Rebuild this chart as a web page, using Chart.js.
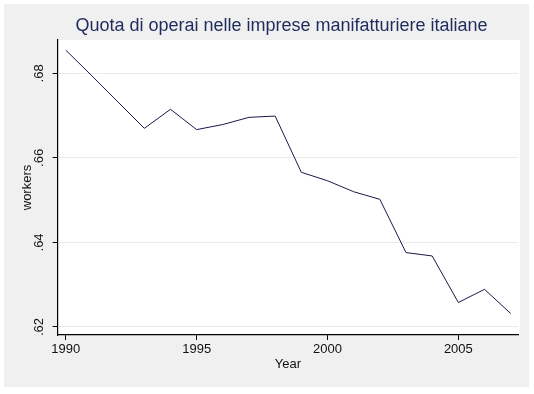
<!DOCTYPE html>
<html>
<head>
<meta charset="utf-8">
<script src="https://cdn.jsdelivr.net/npm/chart.js@4.4.1/dist/chart.umd.min.js"></script>
<style>
html,body{margin:0;padding:0;background:#ffffff;}
#wrap{width:534px;height:394px;position:relative;}
</style>
</head>
<body>
<div id="wrap"><canvas id="c" width="534" height="394"></canvas></div>
<script>
const titleText = "Quota di operai nelle imprese manifatturiere italiane";
const years = [1990,1991,1992,1993,1994,1995,1996,1997,1998,1999,2000,2001,2002,2003,2004,2005,2006,2007];
const workers = [0.6855,0.6794,0.6732,0.6670,0.6715,0.6667,0.6679,0.6696,0.6699,0.6566,0.6546,0.6520,0.6502,0.6376,0.6368,0.6258,0.6289,0.6232];
const xTicks = [1990,1995,2000,2005];
const yTicks = [0.62,0.64,0.66,0.68];
const xTitle = "Year";
const yTitle = "workers";

const FONT = "'Liberation Sans', Arial, sans-serif";

const bgPlugin = {
  id: 'bg',
  beforeDraw(chart) {
    const ctx = chart.ctx, a = chart.chartArea;
    ctx.save();
    ctx.fillStyle = '#f0f0f0';
    ctx.fillRect(4, 4, 525, 383);
    ctx.fillStyle = '#ffffff';
    ctx.fillRect(a.left, a.top, a.right - a.left + 2, a.bottom - a.top);
    ctx.restore();
  },
  afterDraw(chart) {
    const ctx = chart.ctx;
    ctx.save();
    ctx.fillStyle = '#1e2b5c';
    ctx.font = '18px ' + FONT;
    ctx.textAlign = 'center';
    ctx.textBaseline = 'alphabetic';
    ctx.fillText(titleText, 281.5, 31);
    ctx.restore();
  }
};

new Chart(document.getElementById('c'), {
  type: 'line',
  data: {
    datasets: [{
      data: years.map((y, i) => ({x: y, y: workers[i]})),
      borderColor: '#1a1a4a',
      borderWidth: 1,
      pointRadius: 0,
      tension: 0,
      fill: false
    }]
  },
  plugins: [bgPlugin],
  options: {
    responsive: false,
    animation: false,
    devicePixelRatio: 1,
    layout: { padding: { left: 4, right: 16, top: 40, bottom: 22 } },
    plugins: { legend: { display: false }, title: { display: false }, tooltip: { enabled: false } },
    scales: {
      x: {
        type: 'linear',
        min: 1989.69,
        max: 2007.28,
        afterBuildTicks(s) { s.ticks = xTicks.map(v => ({value: v})); },
        afterFit(s) { s.height = 37; },
        border: { display: true, color: '#000000', width: 1.2 },
        grid: { drawOnChartArea: false, drawTicks: true, tickLength: 5, tickColor: '#000000' },
        ticks: { color: '#111111', font: { family: FONT, size: 13 }, padding: 2, maxRotation: 0, callback: v => String(v) },
        title: { display: true, text: xTitle, color: '#111111', font: { family: FONT, size: 13 }, padding: { top: 0, bottom: 0 } }
      },
      y: {
        type: 'linear',
        min: 0.6181,
        max: 0.6879,
        afterBuildTicks(s) { s.ticks = yTicks.map(v => ({value: v})); },
        afterFit(s) { s.width = 53.7; },
        border: { display: true, color: '#000000', width: 1.2 },
        grid: { color: '#ebebeb', lineWidth: 1, drawTicks: true, tickLength: 5, tickColor: '#000000' },
        ticks: { color: '#111111', font: { family: FONT, size: 13 }, padding: 4, minRotation: 90, maxRotation: 90, crossAlign: 'center',
                 callback: v => String(v.toFixed(2)).replace(/^0/, '') },
        title: { display: true, text: yTitle, color: '#111111', font: { family: FONT, size: 13 }, padding: { top: 16, bottom: 0 } }
      }
    }
  }
});
</script>
</body>
</html>
